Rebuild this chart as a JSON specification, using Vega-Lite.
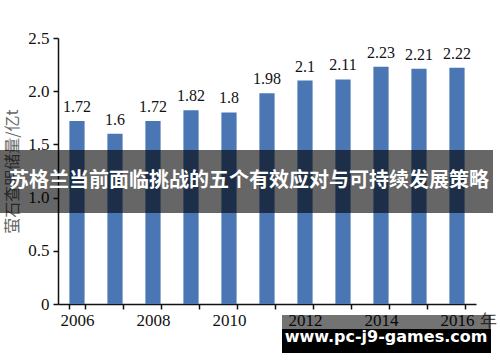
{
  "$schema": "https://vega.github.io/schema/vega-lite/v6.json",
  "width": 418,
  "height": 266,
  "autosize": "none",
  "padding": {"left": 58, "top": 38, "right": 24, "bottom": 58},
  "background": "white",
  "config": {"view": {"stroke": null}},
  "layer": [
    {
      "data": {"values": [
        {"year": "2006", "reserve": 1.72},
        {"year": "2007", "reserve": 1.6},
        {"year": "2008", "reserve": 1.72},
        {"year": "2009", "reserve": 1.82},
        {"year": "2010", "reserve": 1.8},
        {"year": "2011", "reserve": 1.98},
        {"year": "2012", "reserve": 2.1},
        {"year": "2013", "reserve": 2.11},
        {"year": "2014", "reserve": 2.23},
        {"year": "2015", "reserve": 2.21},
        {"year": "2016", "reserve": 2.22}
      ]},
      "encoding": {
        "x": {
          "field": "year", "type": "ordinal",
          "scale": {"paddingInner": 0.6, "paddingOuter": 0.3},
          "axis": {
            "title": "年", "titleX": 430, "titleY": 17, "titleAngle": 0,
            "titleAlign": "center", "titleBaseline": "middle",
            "titleFont": "Noto Sans CJK SC", "titleFontSize": 17, "titleFontWeight": "normal", "titleColor": "#555",
            "labelAngle": 0, "labelFont": "Liberation Serif", "labelFontSize": 17, "labelColor": "#111",
            "labelPadding": 3,
            "labelExpr": "toNumber(datum.value) % 2 == 0 ? datum.value : ''",
            "tickBand": "extent", "tickSize": 5, "tickColor": "#111", "tickWidth": 1.5,
            "domainColor": "#111", "domainWidth": 1.5, "grid": false
          }
        },
        "y": {
          "field": "reserve", "type": "quantitative",
          "scale": {"domain": [0, 2.5]},
          "axis": {
            "title": "萤石查明储量/亿t", "titleFont": "Noto Sans CJK SC", "titleFontSize": 16,
            "titleFontWeight": "normal", "titleColor": "#666",
            "titleX": -46, "titleY": 133, "titleAlign": "center", "titleBaseline": "middle",
            "values": [0, 0.5, 1, 1.5, 2, 2.5],
            "labelExpr": "datum.value == 0 ? '0' : format(datum.value, '.1f')",
            "labelFont": "Liberation Serif", "labelFontSize": 17, "labelColor": "#111", "labelPadding": 4,
            "tickSize": 5, "tickColor": "#111", "tickWidth": 1.5,
            "domainColor": "#111", "domainWidth": 1.5, "grid": false
          }
        }
      },
      "layer": [
        {"mark": {"type": "bar", "color": "#4a77b4"}},
        {
          "mark": {"type": "text", "baseline": "bottom", "dy": -6, "font": "Liberation Serif", "fontSize": 16, "color": "#111"},
          "encoding": {"text": {"field": "reserve", "type": "quantitative"}}
        }
      ]
    },
    {
      "data": {"values": [{"banner": "苏格兰当前面临挑战的五个有效应对与可持续发展策略"}]},
      "layer": [
        {
          "mark": {"type": "rect", "color": "black", "opacity": 0.6},
          "encoding": {"x": {"value": -58}, "x2": {"value": 435}, "y": {"value": 112}, "y2": {"value": 175}}
        },
        {
          "mark": {"type": "text", "font": "Noto Sans CJK SC", "fontWeight": "bold", "fontSize": 20, "color": "white", "align": "center", "baseline": "middle"},
          "encoding": {"x": {"value": 191}, "y": {"value": 143}, "text": {"field": "banner"}}
        }
      ]
    },
    {
      "data": {"values": [{"mark": "www.pc-j9-games.com"}]},
      "layer": [
        {
          "mark": {"type": "rect", "color": "black", "opacity": 0.55},
          "encoding": {"x": {"value": 224}, "x2": {"value": 433}, "y": {"value": 277}, "y2": {"value": 291}}
        },
        {
          "mark": {"type": "rect", "color": "black"},
          "encoding": {"x": {"value": 224}, "x2": {"value": 433}, "y": {"value": 291}, "y2": {"value": 315}}
        },
        {
          "mark": {"type": "text", "font": "DejaVu Sans", "fontWeight": "bold", "fontSize": 16, "color": "white", "align": "center", "baseline": "middle"},
          "encoding": {"x": {"value": 328}, "y": {"value": 299}, "text": {"field": "mark"}}
        }
      ]
    }
  ]
}
